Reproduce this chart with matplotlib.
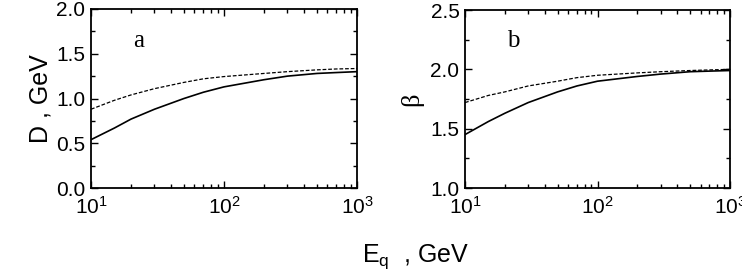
import numpy as np
import matplotlib
matplotlib.use('Agg')
from matplotlib import pyplot as plt
from matplotlib.ticker import MultipleLocator, LogLocator, NullFormatter

plt.rcParams['font.family'] = ['Liberation Sans', 'DejaVu Sans']
plt.rcParams['mathtext.fontset'] = 'custom'
plt.rcParams['mathtext.rm'] = 'Liberation Sans'

# quark energy, GeV
e_q = [10, 15, 20, 30, 50, 70, 100, 200, 300, 500, 700, 1000]

# panel a: D, GeV
d_solid = [0.54, 0.67, 0.77, 0.88, 1.00, 1.07, 1.13, 1.21, 1.25, 1.28, 1.29, 1.30]
d_dashed = [0.88, 0.98, 1.04, 1.11, 1.18, 1.22, 1.245, 1.28, 1.30, 1.32, 1.33, 1.335]

# panel b: beta
b_solid = [1.45, 1.56, 1.63, 1.72, 1.81, 1.86, 1.90, 1.94, 1.96, 1.98, 1.985, 1.99]
b_dashed = [1.72, 1.78, 1.81, 1.86, 1.90, 1.93, 1.95, 1.97, 1.98, 1.99, 1.995, 2.0]

fig = plt.figure(figsize=(7.42, 2.73), dpi=100)
ax1 = fig.add_axes([91/742, 1-188/273, 266/742, 179/273])
ax2 = fig.add_axes([465/742, 1-188/273, 265/742, 178/273])

panels = [(ax1, d_solid, d_dashed, (0, 2.0), 0.5, 'a'),
          (ax2, b_solid, b_dashed, (1.0, 2.5), 0.5, 'b')]

for ax, solid, dashed, ylim, step, tag in panels:
	ax.plot(e_q, solid, color='black', lw=1.2)
	ax.plot(e_q, dashed, color='black', lw=0.9, ls=(0, (3, 1.5)))
	ax.set_xscale('log')
	ax.set_xlim(10, 1000)
	ax.set_ylim(*ylim)
	ax.yaxis.set_major_locator(MultipleLocator(step))
	ax.yaxis.set_minor_locator(MultipleLocator(step/2))
	ax.yaxis.set_major_formatter(plt.FormatStrFormatter('%.1f'))
	ax.xaxis.set_minor_locator(LogLocator(base=10, subs=np.arange(2, 10)))
	ax.xaxis.set_minor_formatter(NullFormatter())
	ax.tick_params(which='both', direction='in', top=True, right=True, labelsize=15, width=1)
	ax.tick_params(which='major', length=5)
	ax.tick_params(which='minor', length=3)
	ax.tick_params(axis='x', pad=6)
	ax.tick_params(axis='y', pad=4)
	for s in ax.spines.values():
		s.set_linewidth(1.3)
	ax.text(0.16, 0.79, tag, transform=ax.transAxes, fontsize=18, family='Liberation Serif')

ax1.set_ylabel('D , GeV', fontsize=18, labelpad=3)
ax2.set_ylabel('β', fontsize=19, labelpad=5, family='Liberation Serif')

fig.text(416/742, 1-257/273, r'E$_{\rm q}$  , GeV', ha='center', va='center', fontsize=18)

fig.savefig('out.png', dpi=100)
